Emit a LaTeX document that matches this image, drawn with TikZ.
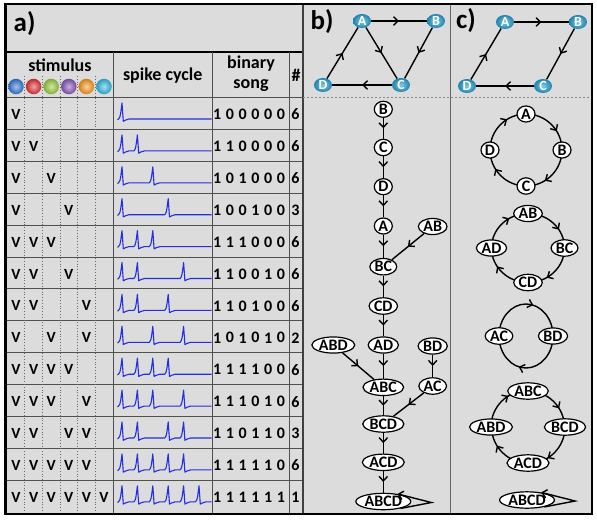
\documentclass[tikz,border=0pt]{standalone}
\usepackage{fontspec}
\setmainfont{Carlito}
\usetikzlibrary{shapes.geometric,arrows.meta,decorations.markings,calc}
\pgfdeclarelayer{back}
\pgfdeclarelayer{mid}
\pgfsetlayers{back,mid,main}
\definecolor{panelbg}{RGB}{220,220,220}
\definecolor{gridc}{RGB}{80,80,80}
\definecolor{dotc}{RGB}{105,105,105}
\definecolor{spikec}{RGB}{35,45,225}
\definecolor{nodeblue}{RGB}{35,155,205}
\definecolor{ballblue}{RGB}{50,120,215}
\definecolor{ballred}{RGB}{225,50,55}
\definecolor{ballgreen}{RGB}{150,205,60}
\definecolor{ballpurple}{RGB}{135,85,185}
\definecolor{ballorange}{RGB}{250,150,30}
\definecolor{ballcyan}{RGB}{50,185,225}
\newcommand{\spikerow}[2]{%
  \draw[spike] (117.5,#1+22.2)
    \foreach \p in #2 {
      -- (\p-3.5,#1+21.5)
      .. controls (\p-1.6,#1+21.5) and (\p-0.6,#1+10) .. (\p,#1+5.5)
      -- (\p+1.3,#1+23.8)
      .. controls (\p+2.6,#1+23.8) and (\p+3.6,#1+21.5) .. (\p+7,#1+21.5)
    } -- (211.5,#1+21.5);}
\begin{document}
\begin{tikzpicture}[x=1pt,y=-1pt,
  spike/.style={draw=spikec,line width=1.1pt,line join=round},
  grid/.style={draw=gridc,line width=0.9pt},
  dotl/.style={draw=dotc,line width=0.8pt,dotted},
  hdr/.style={font=\fontsize{18}{20}\selectfont\bfseries,inner sep=0pt},
  vtxt/.style={font=\fontsize{15.5}{15.5}\selectfont\bfseries,inner sep=0pt},
  dig/.style={font=\fontsize{16}{16}\selectfont\bfseries,inner sep=0pt},
  lab/.style={font=\fontsize{27}{27}\selectfont\bfseries,inner sep=0pt,anchor=west},
  ball/.style={circle,inner sep=0pt,minimum size=15.5pt,shading=radial,inner color=#1!45!white,outer color=#1!85!black},
  tn/.style={ellipse,shading=radial,inner color=nodeblue!55!white,outer color=nodeblue!85!black,text=white,minimum width=18pt,minimum height=14pt,inner sep=0pt,font=\fontsize{14}{14}\selectfont\bfseries},
  st/.style={ellipse,draw=black,fill=white,line width=1.2pt,inner xsep=0.8pt,inner ysep=0.5pt,minimum width=18pt,minimum height=16pt,font=\fontsize{16}{16}\selectfont\bfseries},
  edge/.style={draw=black,line width=1.4pt},
  midarrow/.style={decoration={markings,mark=at position #1 with {\arrow{Straight Barb[length=4.5pt,width=8.5pt]}}},postaction={decorate}},
  midarrow/.default=0.5,
  endbarb/.style={-{Straight Barb[length=4.5pt,width=8.5pt]}}
]
\useasboundingbox (0,0) rectangle (597,520);
\begin{pgfonlayer}{back}
  \fill[white] (0,0) rectangle (597,520);
  \fill[panelbg] (5.7,4) rectangle (592,514);
\end{pgfonlayer}

% ---------- panel a: table ----------
\draw[black,line width=1.3pt] (5.7,52) -- (303,52);
\foreach \k in {0,...,12} { \draw[grid] (7,{97.5+\k*31.9}) -- (303,{97.5+\k*31.9}); }
\foreach \x in {113.2,212.3,289.3} { \draw[grid] (\x,52) -- (\x,514); }
\foreach \j in {0,...,4} { \draw[dotl] ({24.8+\j*17.6},76) -- ({24.8+\j*17.6},514); }

\node[lab] (la) at (13.5,24) {a)};
\node[hdr] (hstim) at (60,65) {stimulus};
\node[hdr] (hspike) at (162.7,75.5) {spike cycle};
\node[hdr] (hbin) at (251,63.5) {binary};
\node[hdr] (hsong) at (251,86) {song};
\node[hdr] (hnum) at (296,75.5) {\#};
\foreach \c/\col in {1/ballblue,2/ballred,3/ballgreen,4/ballpurple,5/ballorange,6/ballcyan}
  { \node[ball=\col] (ball\c) at ({16+(\c-1)*17.6},86.5) {}; }

\foreach \r/\vs/\song/\n/\sp in {
  1/{1}/{1,0,0,0,0,0}/6/{122},
  2/{1,2}/{1,1,0,0,0,0}/6/{122,137.4},
  3/{1,3}/{1,0,1,0,0,0}/6/{122,152.8},
  4/{1,4}/{1,0,0,1,0,0}/3/{122,168.2},
  5/{1,2,3}/{1,1,1,0,0,0}/6/{122,137.4,152.8},
  6/{1,2,4}/{1,1,0,0,1,0}/6/{122,137.4,183.6},
  7/{1,2,5}/{1,1,0,1,0,0}/6/{122,137.4,168.2},
  8/{1,3,5}/{1,0,1,0,1,0}/2/{122,152.8,183.6},
  9/{1,2,3,4}/{1,1,1,1,0,0}/6/{122,137.4,152.8,168.2},
  10/{1,2,3,5}/{1,1,1,0,1,0}/6/{122,137.4,152.8,183.6},
  11/{1,2,4,5}/{1,1,0,1,1,0}/3/{122,137.4,168.2,183.6},
  12/{1,2,3,4,5}/{1,1,1,1,1,0}/6/{122,137.4,152.8,168.2,183.6},
  13/{1,2,3,4,5,6}/{1,1,1,1,1,1}/1/{122,137.4,152.8,168.2,183.6,199}}{
  \pgfmathsetmacro\yt{97.5+(\r-1)*31.9}
  \pgfmathsetmacro\yc{\yt+17}
  \foreach \c in \vs { \node[vtxt] (v\r-\c) at ({16+(\c-1)*17.6},\yc) {V}; }
  \foreach \d [count=\i] in \song { \node[dig] (s\r-\i) at ({217.3+(\i-1)*12.75},\yc) {\d}; }
  \node[dig] (n\r) at (295.5,\yc) {\n};
  \spikerow{\yt}{\sp}
}

% ---------- panel dividers ----------
\draw[draw=black!75,line width=1.2pt] (303,4) -- (303,514);
\draw[draw=black!60,line width=0.9pt] (450,4) -- (450,514);
\draw[draw=black!45,line width=0.8pt,dash pattern=on 2pt off 2pt] (303,97.5) -- (592,97.5);

% ---------- panel b ----------
\node[lab] (lb) at (310.5,22) {b)};
\node[tn] (tA) at (362,21) {A};
\node[tn] (tB) at (436,21) {B};
\node[tn] (tC) at (401,85) {C};
\node[tn] (tD) at (323,85) {D};
\draw[edge,midarrow] (tA) -- (tB);
\draw[edge,midarrow] (tA) -- (tC);
\draw[edge,midarrow] (tB) -- (tC);
\draw[edge,midarrow] (tC) -- (tD);
\draw[edge,midarrow] (tD) -- (tA);

\node[st] (B) at (383.3,109.3) {B};
\node[st] (C) at (383.3,147.5) {C};
\node[st] (D) at (383.3,186.7) {D};
\node[st] (A) at (383.3,226) {A};
\node[st] (AB) at (432.7,226.5) {AB};
\node[st] (BC) at (383.3,266.7) {BC};
\node[st] (CD) at (383.3,306) {CD};
\node[st] (ABD) at (333.3,345) {ABD};
\node[st] (AD) at (383.3,345) {AD};
\node[st] (BD) at (432.7,346) {BD};
\node[st] (ABC) at (383.3,387.3) {ABC};
\node[st] (AC) at (432.7,386) {AC};
\node[st] (BCD) at (383.3,424) {BCD};
\node[st] (ACD) at (383.3,462.3) {ACD};
\node[st] (ABCD) at (383.3,501.5) {ABCD};
\draw[edge,midarrow] (B) -- (C);
\draw[edge,midarrow] (C) -- (D);
\draw[edge,midarrow] (D) -- (A);
\draw[edge,midarrow] (A) -- (BC);
\draw[edge,midarrow] (AB) -- (BC);
\draw[edge,midarrow] (BC) -- (CD);
\draw[edge,midarrow] (CD) -- (AD);
\draw[edge,midarrow] (AD) -- (ABC);
\draw[edge,midarrow] (ABD) -- (ABC);
\draw[edge,midarrow] (BD) -- (AC);
\draw[edge,midarrow] (AC) -- (BCD);
\draw[edge,midarrow] (ABC) -- (BCD);
\draw[edge,midarrow] (BCD) -- (ACD);
\draw[edge,midarrow] (ACD) -- (ABCD);
\coordinate (Lb) at ($(ABCD.east)+(20,1)$);
\draw[edge,endbarb] (ABCD.-22) -- (Lb) -- (ABCD.28);

% ---------- panel c ----------
\node[lab] (lc) at (456,21) {c)};
\node[tn] (uA) at (505,22) {A};
\node[tn] (uB) at (578,22) {B};
\node[tn] (uC) at (543,86) {C};
\node[tn] (uD) at (467,86) {D};
\draw[edge,midarrow] (uA) -- (uB);
\draw[edge,midarrow] (uB) -- (uC);
\draw[edge,midarrow] (uC) -- (uD);
\draw[edge,midarrow] (uD) -- (uA);

% cycle 1
\node[st] (A1) at (526,114) {A};
\node[st] (B1) at (562,150) {B};
\node[st] (C1) at (526,186) {C};
\node[st] (D1) at (490,150) {D};
% cycle 2
\node[st] (AB2) at (528,213.5) {AB};
\node[st] (BC2) at (564.5,248) {BC};
\node[st] (CD2) at (528,282.5) {CD};
\node[st] (AD2) at (491.5,248) {AD};
% cycle 3
\node[st] (AC3) at (499,336) {AC};
\node[st] (BD3) at (553,336) {BD};
% cycle 4
\node[st] (ABC4) at (528,391) {ABC};
\node[st] (BCD4) at (565,427) {BCD};
\node[st] (ACD4) at (528,463) {ACD};
\node[st] (ABD4) at (491,427) {ABD};
% fixed point
\node[st] (ABCD5) at (527,500) {ABCD};

\begin{pgfonlayer}{mid}
  \draw[edge,midarrow=0.65] (A1.center) arc[start angle=270,end angle=360,radius=36];
  \draw[edge,midarrow=0.65] (B1.center) arc[start angle=0,end angle=90,radius=36];
  \draw[edge,midarrow=0.65] (C1.center) arc[start angle=90,end angle=180,radius=36];
  \draw[edge,midarrow=0.65] (D1.center) arc[start angle=180,end angle=270,radius=36];
  \draw[edge,midarrow=0.65] (AB2.center) arc[start angle=270,end angle=360,x radius=36.5,y radius=34.5];
  \draw[edge,midarrow=0.65] (BC2.center) arc[start angle=0,end angle=90,x radius=36.5,y radius=34.5];
  \draw[edge,midarrow=0.65] (CD2.center) arc[start angle=90,end angle=180,x radius=36.5,y radius=34.5];
  \draw[edge,midarrow=0.65] (AD2.center) arc[start angle=180,end angle=270,x radius=36.5,y radius=34.5];
  \draw[edge,midarrow=0.58] (AC3.center) arc[start angle=180,end angle=360,x radius=27,y radius=32];
  \draw[edge,midarrow=0.58] (BD3.center) arc[start angle=0,end angle=180,x radius=27,y radius=32];
  \draw[edge,midarrow=0.65] (ABC4.center) arc[start angle=270,end angle=360,radius=36.5];
  \draw[edge,midarrow=0.65] (BCD4.center) arc[start angle=0,end angle=90,radius=36.5];
  \draw[edge,midarrow=0.65] (ACD4.center) arc[start angle=90,end angle=180,radius=36.5];
  \draw[edge,midarrow=0.65] (ABD4.center) arc[start angle=180,end angle=270,radius=36.5];
\end{pgfonlayer}
\coordinate (Lc) at ($(ABCD5.east)+(20,1)$);
\draw[edge,endbarb] (ABCD5.-22) -- (Lc) -- (ABCD5.28);

% ---------- outer frame ----------
\draw[black,line width=2.8pt] (5.7,4) rectangle (592,514);
\end{tikzpicture}
\end{document}
